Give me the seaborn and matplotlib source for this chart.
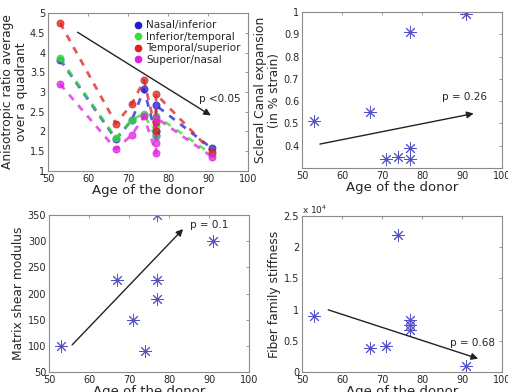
import matplotlib
matplotlib.use("Agg")
import matplotlib.pyplot as plt
import seaborn as sns
import pandas as pd
from matplotlib.ticker import FuncFormatter
from matplotlib.lines import Line2D

# ---- data ----
ages = [53, 67, 71, 74, 77, 77, 77, 91]
nasal_inferior = [3.82, 1.80, 2.30, 3.07, 1.90, 2.00, 2.66, 1.57]
inferior_temporal = [3.85, 1.83, 2.30, 2.45, 1.85, 2.15, 2.40, 1.42]
temporal_superior = [4.75, 2.20, 2.70, 3.30, 2.00, 2.25, 2.95, 1.48]
superior_nasal = [3.20, 1.55, 1.92, 2.38, 1.45, 1.70, 2.35, 1.36]
series_names = ["Nasal/inferior", "Inferior/temporal", "Temporal/superior", "Superior/nasal"]
series_colors = ["#1f1fd0", "#33e033", "#dd2020", "#e020e0"]

scleral_expansion = [0.51, 0.55, 0.34, 0.35, 0.91, 0.39, 0.34, 0.99]
matrix_shear = [100, 225, 150, 90, 350, 225, 190, 300]
fiber_stiffness = [9000, 3800, 4200, 22000, 8300, 7500, 6800, 1000]

sns.set_style("white")
plt.rcParams['font.family'] = ['DejaVu Sans']

fig = plt.figure(figsize=(5.08, 3.92), dpi=100)
ax_tl = fig.add_axes([0.0945, 0.5638, 0.3937, 0.403])
ax_tr = fig.add_axes([0.5945, 0.5714, 0.3937, 0.398])
ax_bl = fig.add_axes([0.0965, 0.051, 0.3937, 0.4005])
ax_br = fig.add_axes([0.5945, 0.051, 0.3937, 0.398])

fmt = FuncFormatter(lambda v, p: ("%g" % v))
star_color = "#5252c4"
star = (8, 2, 0)

def style(ax):
    for s in ax.spines.values():
        s.set_color("#8a8a8a")
        s.set_linewidth(0.8)
    ax.tick_params(direction="in", length=2.5, width=0.6, color="#8a8a8a",
                   labelsize=7, top=True, right=True, pad=2)
    ax.set_xlim(50, 100)
    ax.set_xticks([50, 60, 70, 80, 90, 100])
    ax.xaxis.set_major_formatter(fmt)
    ax.yaxis.set_major_formatter(fmt)
    ax.set_xlabel("Age of the donor", fontsize=9.5, labelpad=0)

# ---- top-left ----
for name, vals, col in zip(series_names,
                           [nasal_inferior, inferior_temporal, temporal_superior, superior_nasal],
                           series_colors):
    df = pd.DataFrame({"age": ages, "val": vals})
    sns.lineplot(data=df, x="age", y="val", sort=False, ax=ax_tl, color=col,
                 linestyle=(0, (2.5, 2.5)), linewidth=2.0, alpha=0.75,
                 marker="o", markersize=5, markeredgecolor=col, estimator=None)
style(ax_tl)
ax_tl.set_ylim(1, 5)
ax_tl.set_yticks([1, 1.5, 2, 2.5, 3, 3.5, 4, 4.5, 5])
ax_tl.set_ylabel("Anisotropic ratio average\nover a quadrant", fontsize=8.8, labelpad=1, linespacing=1.1)
handles = [Line2D([], [], linestyle="none", marker="o", markersize=4.5, color=c) for c in series_colors]
ax_tl.legend(handles, series_names, loc="upper right", frameon=False, fontsize=7.5,
             handletextpad=0.2, labelspacing=0.15, borderaxespad=0.3, handlelength=1.2)
ax_tl.annotate("", xy=(91.3, 2.37), xytext=(56.8, 4.55),
               arrowprops=dict(arrowstyle="-|>", color="#222222", lw=1.0, mutation_scale=10))
ax_tl.text(93, 2.82, "p <0.05", fontsize=7.5, ha="center", va="center")

# ---- top-right ----
sns.scatterplot(x=ages, y=scleral_expansion, ax=ax_tr, marker=star, s=70,
                color=star_color, edgecolor=star_color, linewidth=0.7)
style(ax_tr)
ax_tr.set_ylim(0.3, 1.0)
ax_tr.set_yticks([0.4, 0.5, 0.6, 0.7, 0.8, 0.9, 1.0])
ax_tr.set_ylabel("Scleral Canal expansion\n(in % strain)", fontsize=8.8, labelpad=2, linespacing=1.1)
ax_tr.annotate("", xy=(93.6, 0.547), xytext=(53.8, 0.405),
               arrowprops=dict(arrowstyle="-|>", color="#222222", lw=1.0, mutation_scale=10))
ax_tr.text(90.6, 0.62, "p = 0.26", fontsize=7.5, ha="center", va="center")

# ---- bottom-left ----
sns.scatterplot(x=ages, y=matrix_shear, ax=ax_bl, marker=star, s=70,
                color=star_color, edgecolor=star_color, linewidth=0.7)
style(ax_bl)
ax_bl.set_ylim(50, 350)
ax_bl.set_yticks([50, 100, 150, 200, 250, 300, 350])
ax_bl.set_ylabel("Matrix shear modulus", fontsize=8.8, labelpad=2)
ax_bl.annotate("", xy=(84, 327), xytext=(55.3, 98),
               arrowprops=dict(arrowstyle="-|>", color="#222222", lw=1.0, mutation_scale=10))
ax_bl.text(90, 330, "p = 0.1", fontsize=7.5, ha="center", va="center")

# ---- bottom-right ----
sns.scatterplot(x=ages, y=fiber_stiffness, ax=ax_br, marker=star, s=70,
                color=star_color, edgecolor=star_color, linewidth=0.7)
style(ax_br)
ax_br.set_ylim(0, 25000)
ax_br.set_yticks([0, 5000, 10000, 15000, 20000, 25000])
ax_br.yaxis.set_major_formatter(FuncFormatter(lambda v, p: "%g" % (v / 1e4)))
ax_br.text(0.0, 1.0, "x 10$^4$", transform=ax_br.transAxes, fontsize=6.5, va="bottom", ha="left")
ax_br.set_ylabel("Fiber family stiffness", fontsize=8.8, labelpad=2)
ax_br.annotate("", xy=(94.7, 2000), xytext=(55.9, 10100),
               arrowprops=dict(arrowstyle="-|>", color="#222222", lw=1.0, mutation_scale=10))
ax_br.text(92.5, 4700, "p = 0.68", fontsize=7.5, ha="center", va="center")

fig.savefig("out.png", dpi=100)
